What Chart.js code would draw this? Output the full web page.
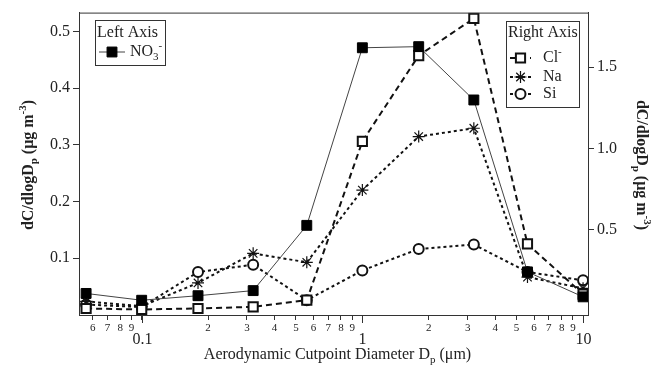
<!DOCTYPE html>
<html>
<head>
<meta charset="utf-8">
<script src="https://cdn.jsdelivr.net/npm/chart.js@4.4.1/dist/chart.umd.min.js"></script>
<style>
  body { margin: 0; background: #fff; }
  canvas { display: block; }
</style>
</head>
<body>
<canvas id="sizeChart" width="656" height="365"></canvas>
<script>
// Size distribution data (cutpoint diameters in µm)
const diameters = [0.056, 0.1, 0.18, 0.32, 0.56, 1.0, 1.8, 3.2, 5.6, 10];
const no3 = [0.038, 0.026, 0.034, 0.043, 0.158, 0.471, 0.473, 0.379, 0.076, 0.032];
const cl = [0.016, 0.010, 0.016, 0.026, 0.067, 1.043, 1.571, 1.799, 0.413, 0.104];
const na = [0.060, 0.030, 0.173, 0.355, 0.300, 0.744, 1.073, 1.124, 0.209, 0.140];
const si = [0.040, 0.025, 0.240, 0.285, 0.067, 0.250, 0.382, 0.409, 0.240, 0.189];

const leftTicks = [0.1, 0.2, 0.3, 0.4, 0.5];
const rightTicks = [0.5, 1.0, 1.5];
const xTickValues = [0.06, 0.07, 0.08, 0.09, 0.1, 0.2, 0.3, 0.4, 0.5, 0.6, 0.7, 0.8, 0.9, 1,
  2, 3, 4, 5, 6, 7, 8, 9, 10];
const xTickLabels = ["6", "7", "8", "9", "", "2", "3", "4", "5", "6", "7", "8", "9", "",
  "2", "3", "4", "5", "6", "7", "8", "9", ""];
const xMajorTicks = [0.1, 1, 10];
const xMajorLabels = ["0.1", "1", "10"];

const FONT = "'Liberation Serif', 'DejaVu Serif', serif";
const INK = "#222";

function pts(values) {
  return diameters.map((d, i) => ({ x: d, y: values[i] }));
}

// text with sub/superscripts
function drawRich(ctx, parts, x, y, size, weight, align) {
  const fontFor = (p) => (weight || "") + " " + (p.sub || p.sup ? Math.round(size * 0.68) : size) + "px " + FONT;
  let total = 0;
  parts.forEach((p) => {
    ctx.font = fontFor(p);
    total += ctx.measureText(p.t).width;
  });
  let cx = align === "center" ? x - total / 2 : x;
  ctx.textAlign = "left";
  ctx.textBaseline = "middle";
  parts.forEach((p) => {
    ctx.font = fontFor(p);
    let dy = 0;
    if (p.sub) dy = size * 0.32;
    if (p.sup) dy = -size * 0.38;
    ctx.fillText(p.t, cx, y + dy);
    cx += ctx.measureText(p.t).width;
  });
}

const yTitle = [{ t: "dC/dlogD" }, { t: "p", sub: true }, { t: " (μg m" }, { t: "-3", sup: true }, { t: ")" }];
const xTitle = [{ t: "Aerodynamic Cutpoint Diameter D" }, { t: "p", sub: true }, { t: " (μm)" }];

const decorPlugin = {
  id: "decor",
  afterDraw(chart) {
    const { ctx, chartArea: a, scales } = chart;
    const H = Chart.helpers;
    ctx.save();
    ctx.strokeStyle = "#333";
    ctx.lineWidth = 1;
    ctx.setLineDash([]);

    // top frame line
    ctx.beginPath();
    ctx.moveTo(a.left, a.top + 0.5);
    ctx.lineTo(a.right, a.top + 0.5);
    ctx.stroke();

    // major x ticks + labels
    ctx.fillStyle = INK;
    xMajorTicks.forEach((v, i) => {
      const px = Math.round(scales.x.getPixelForValue(v)) + 0.5;
      ctx.beginPath();
      ctx.moveTo(px, a.bottom);
      ctx.lineTo(px, a.bottom + 8);
      ctx.stroke();
      ctx.font = "16px " + FONT;
      ctx.textAlign = "center";
      ctx.textBaseline = "middle";
      ctx.fillText(xMajorLabels[i], px, 340);
    });

    // axis titles
    drawRich(ctx, xTitle, (a.left + a.right) / 2 + 4, 355, 16, "", "center");
    ctx.save();
    ctx.translate(29, 165);
    ctx.rotate(-Math.PI / 2);
    drawRich(ctx, yTitle, 0, 0, 16, "bold", "center");
    ctx.restore();
    ctx.save();
    ctx.translate(641, 165);
    ctx.rotate(Math.PI / 2);
    drawRich(ctx, yTitle, 0, 0, 16, "bold", "center");
    ctx.restore();

    // legends
    const ds = chart.data.datasets;
    const entry = (d, x1, x2, y, label, tx) => {
      ctx.save();
      ctx.strokeStyle = d.borderColor;
      ctx.lineWidth = d.borderWidth;
      ctx.setLineDash(d.borderDash || []);
      ctx.beginPath();
      ctx.moveTo(x1, y);
      ctx.lineTo(x2, y);
      ctx.stroke();
      ctx.setLineDash([]);
      ctx.fillStyle = d.pointBackgroundColor;
      ctx.strokeStyle = d.pointBorderColor;
      ctx.lineWidth = d.pointBorderWidth;
      H.drawPoint(ctx, { pointStyle: d.pointStyle, radius: d.pointRadius, borderWidth: d.pointBorderWidth, rotation: 0 }, (x1 + x2) / 2, y);
      ctx.restore();
      ctx.fillStyle = INK;
      drawRich(ctx, label, tx, y, 16, "", "left");
    };

    ctx.strokeStyle = "#333";
    ctx.lineWidth = 1;
    ctx.strokeRect(95.5, 20.5, 70, 45);
    ctx.fillStyle = INK;
    drawRich(ctx, [{ t: "Left Axis" }], 97, 33, 16, "", "left");
    entry(ds[0], 99, 125, 52, [{ t: "NO" }, { t: "3", sub: true }, { t: "-", sup: true }], 130);

    ctx.strokeStyle = "#333";
    ctx.lineWidth = 1;
    ctx.strokeRect(506.5, 21.5, 73, 86);
    ctx.fillStyle = INK;
    drawRich(ctx, [{ t: "Right Axis" }], 508, 33, 16, "", "left");
    entry(ds[1], 510, 531, 58, [{ t: "Cl" }, { t: "-", sup: true }], 543);
    entry(ds[2], 510, 531, 77, [{ t: "Na" }], 543);
    entry(ds[3], 510, 531, 94, [{ t: "Si" }], 543);

    ctx.restore();
  }
};

const ctx = document.getElementById("sizeChart").getContext("2d");
const sizeChart = new Chart(ctx, {
  type: "line",
  data: {
    datasets: [
      {
        label: "NO3-",
        data: pts(no3),
        yAxisID: "y",
        borderColor: "#444",
        borderWidth: 1,
        pointStyle: "rect",
        pointRadius: 7,
        pointBackgroundColor: "#000",
        pointBorderColor: "#000",
        pointBorderWidth: 1,
      },
      {
        label: "Cl-",
        data: pts(cl),
        yAxisID: "y1",
        borderColor: "#111",
        borderWidth: 2,
        borderDash: [6, 4],
        pointStyle: "rect",
        pointRadius: 6.5,
        pointBackgroundColor: "#fff",
        pointBorderColor: "#111",
        pointBorderWidth: 2,
      },
      {
        label: "Na",
        data: pts(na),
        yAxisID: "y1",
        borderColor: "#111",
        borderWidth: 2,
        borderDash: [3, 3],
        pointStyle: "star",
        pointRadius: 6,
        pointBackgroundColor: "#fff",
        pointBorderColor: "#111",
        pointBorderWidth: 1.2,
      },
      {
        label: "Si",
        data: pts(si),
        yAxisID: "y1",
        borderColor: "#111",
        borderWidth: 2,
        borderDash: [3, 3],
        pointStyle: "circle",
        pointRadius: 5,
        pointBackgroundColor: "#fff",
        pointBorderColor: "#111",
        pointBorderWidth: 2,
      },
    ],
  },
  options: {
    responsive: false,
    animation: false,
    devicePixelRatio: 1,
    layout: { padding: { top: 10, left: 0, right: 0, bottom: 0 } },
    plugins: {
      legend: { display: false },
      tooltip: { enabled: false },
    },
    scales: {
      x: {
        type: "logarithmic",
        min: 0.052,
        max: 10.53,
        afterBuildTicks: (s) => { s.ticks = xTickValues.map((v) => ({ value: v })); },
        afterFit: (s) => { s.height = 50; },
        ticks: {
          autoSkip: false,
          maxRotation: 0,
          padding: 2,
          color: INK,
          font: { family: FONT, size: 11 },
          callback: (v, i) => xTickLabels[i],
        },
        grid: { drawOnChartArea: false, tickLength: 5, color: "#333" },
        border: { color: "#333" },
      },
      y: {
        position: "left",
        min: 0,
        max: 0.533,
        afterBuildTicks: (s) => { s.ticks = leftTicks.map((v) => ({ value: v })); },
        afterFit: (s) => { s.width = 79; },
        ticks: {
          padding: 3,
          color: INK,
          font: { family: FONT, size: 16 },
          callback: (v) => v.toFixed(1),
        },
        grid: { drawOnChartArea: false, tickLength: 6, color: "#333" },
        border: { color: "#333" },
      },
      y1: {
        position: "right",
        min: -0.024,
        max: 1.835,
        afterBuildTicks: (s) => { s.ticks = rightTicks.map((v) => ({ value: v })); },
        afterFit: (s) => { s.width = 68; },
        ticks: {
          padding: 3,
          color: INK,
          font: { family: FONT, size: 16 },
          callback: (v) => v.toFixed(1),
        },
        grid: { drawOnChartArea: false, tickLength: 6, color: "#333" },
        border: { color: "#333" },
      },
    },
  },
  plugins: [decorPlugin],
});
</script>
</body>
</html>
